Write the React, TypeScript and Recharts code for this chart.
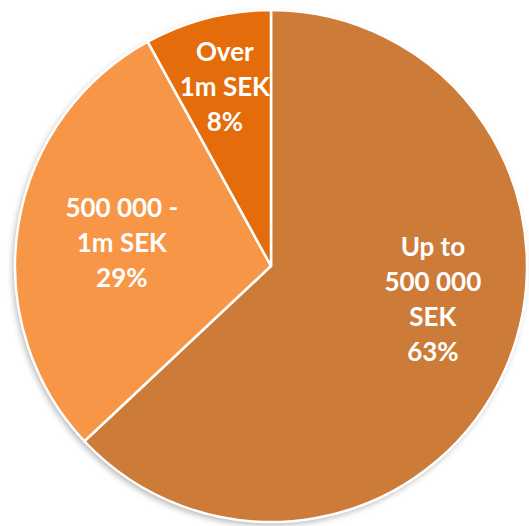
import { Cell, Pie, PieChart } from "recharts";

const CATEGORIES = ["Up to 500 000 SEK", "500 000 - 1m SEK", "Over 1m SEK"];
const SHARES = [63, 29, 8];
const LABEL_LINES = [
  ["Up to", "500 000", "SEK", "63%"],
  ["500 000 -", "1m SEK", "29%"],
  ["Over", "1m SEK", "8%"],
];
const COLORS = ["#CD7B38", "#F79646", "#E46C0A"];

// where Excel put each label: fraction of radius and angle tweak
const LABEL_SPOT = [
  { r: 0.645, da: 12 },
  { r: 0.59, da: 0 },
  { r: 0.725, da: 0 },
];

const data = CATEGORIES.map((name, i) => ({ name, value: SHARES[i] }));

const RAD = Math.PI / 180;

function renderLabel(props: any) {
  const { cx, cy, midAngle, outerRadius, index } = props;
  const spot = LABEL_SPOT[index];
  const a = (midAngle + spot.da) * RAD;
  const r = outerRadius * spot.r;
  const x = cx + r * Math.cos(a);
  const y = cy - r * Math.sin(a);
  const lines = LABEL_LINES[index];
  const lh = 35;
  const top = y - ((lines.length - 1) * lh) / 2;
  return (
    <text
      x={x}
      y={top}
      fill="#ffffff"
      textAnchor="middle"
      dominantBaseline="central"
      fontFamily="Lato, 'Open Sans', sans-serif"
      fontWeight="bold"
      fontSize={26}
    >
      {lines.map((t, i) => (
        <tspan key={i} x={x} y={top + i * lh}>
          {t}
        </tspan>
      ))}
    </text>
  );
}

export default function App() {
  return (
    <div style={{ position: "absolute", left: 0, top: 0, width: 529, height: 526, background: "#fff" }}>
      <style>{`.pie-shadow path { filter: blur(3px); }`}</style>
      <PieChart width={529} height={526} margin={{ top: 0, right: 0, bottom: 0, left: 0 }}>
        <Pie
          className="pie-shadow"
          data={data}
          dataKey="value"
          cx={269}
          cy={269}
          outerRadius={256}
          startAngle={90}
          endAngle={-270}
          stroke="none"
          fill="#000000"
          fillOpacity={0.3}
          label={false}
          labelLine={false}
          isAnimationActive={false}
        />
        <Pie
          data={data}
          dataKey="value"
          nameKey="name"
          cx={271}
          cy={266}
          outerRadius={256}
          startAngle={90}
          endAngle={-270}
          stroke="#ffffff"
          strokeWidth={2.5}
          labelLine={false}
          label={renderLabel}
          isAnimationActive={false}
        >
          {data.map((_, i) => (
            <Cell key={i} fill={COLORS[i]} />
          ))}
        </Pie>
      </PieChart>
    </div>
  );
}
